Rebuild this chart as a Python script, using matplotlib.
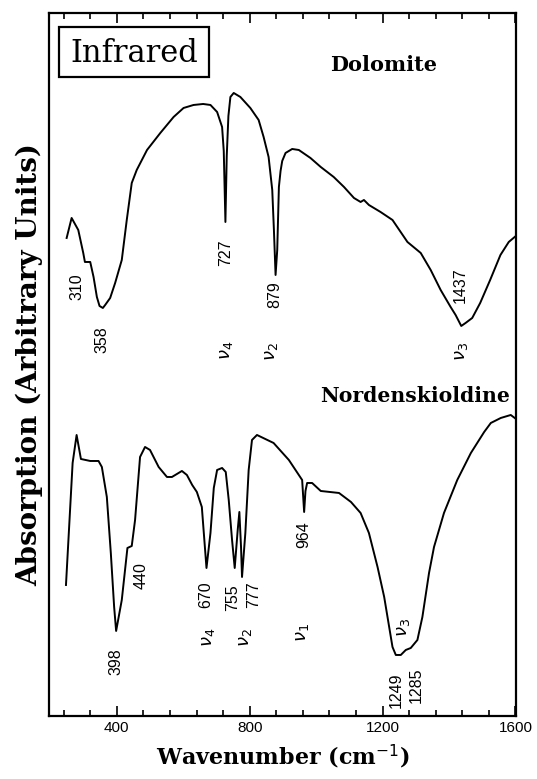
import matplotlib
matplotlib.use("Agg")
import matplotlib.pyplot as plt
from matplotlib.ticker import MultipleLocator
from matplotlib.patches import Rectangle

# Dolomite spectrum (wavenumber, absorption in arbitrary units)
dolomite_wn = [249, 264, 284, 299, 304, 320, 330, 340, 348, 358, 365, 380, 395, 415,
               430, 445, 460, 491, 531, 571, 601, 631, 660, 682, 702, 717, 722, 727,
               731, 736, 742, 752, 772, 802, 827, 842, 857, 868, 873, 878, 883, 888,
               893, 898, 908, 928, 948, 983, 1014, 1053, 1084, 1114, 1134, 1144, 1159,
               1194, 1230, 1275, 1315, 1345, 1375, 1405, 1420, 1437, 1450, 1470, 1494,
               1524, 1555, 1580, 1605]
dolomite_abs = [478, 498, 486, 463, 454, 454, 439, 419, 410, 408, 411, 418, 433, 456,
                496, 533, 546, 566, 583, 599, 608, 611, 612, 611, 604, 589, 565, 494,
                560, 600, 619, 623, 619, 608, 596, 579, 559, 526, 486, 441, 466, 529,
                545, 555, 563, 567, 566, 558, 549, 539, 529, 518, 514, 516, 511,
                504, 496, 474, 463, 446, 426, 409, 401, 390, 393, 398, 413,
                436, 461, 474, 481]

# Nordenskioldine spectrum
nord_wn = [247, 267, 279, 292, 320, 345, 355, 370, 382, 392, 398, 415, 432, 445, 455,
           470, 485, 500, 526, 551, 566, 596, 611, 627, 641, 656, 670, 682, 692, 702,
           717, 728, 737, 747, 755, 764, 769, 774, 777, 787, 797, 807, 822, 872, 918,
           958, 964, 968, 973, 988, 1014, 1069, 1105, 1134, 1159, 1185, 1205, 1220,
           1230, 1240, 1255, 1270, 1285, 1305, 1320, 1340, 1355, 1385, 1425, 1466,
           1506, 1526, 1556, 1586, 1606]
nord_abs = [131, 253, 281, 257, 255, 255, 249, 219, 163, 109, 85, 116, 168, 170, 196,
            259, 269, 266, 249, 239, 239, 245, 241, 231, 224, 209, 148, 183, 228, 246,
            248, 244, 216, 176, 148, 186, 204, 169, 139, 183, 246, 276, 281, 273, 256,
            236, 204, 225, 233, 233, 225, 223, 214, 203, 183, 149, 119, 89,
            69, 61, 61, 66, 68, 76, 99, 143, 169, 203, 236, 263,
            284, 293, 298, 301, 296]

# peak labels: text, wavenumber, height
dolomite_peaks = [("310", 279, 429), ("358", 356, 376), ("727", 727, 463),
                  ("879", 876, 421), ("1437", 1435, 431)]
dolomite_modes = [(r"$\nu_4$", 729, 366), (r"$\nu_2$", 864, 364), (r"$\nu_3$", 1437, 364)]
nord_peaks = [("398", 398, 54), ("440", 473, 140), ("670", 669, 121), ("755", 750, 118),
              ("777", 812, 121), ("964", 963, 181), ("1249", 1242, 26), ("1285", 1303, 31)]
nord_modes = [(r"$\nu_4$", 675, 79), (r"$\nu_2$", 787, 78), (r"$\nu_1$", 958, 83),
              (r"$\nu_3$", 1263, 88)]

serif = "DejaVu Serif"
sans = "Liberation Sans"

fig = plt.figure(figsize=(5.37, 7.79), dpi=100)
ax = fig.add_axes([0.0907, 0.0809, 0.8703, 0.9018])

ax.plot(dolomite_wn, dolomite_abs, color="black", lw=1.4)
ax.plot(nord_wn, nord_abs, color="black", lw=1.4)

for txt, x, y in dolomite_peaks + nord_peaks:
    ax.text(x, y, txt, rotation=90, ha="center", va="center", fontsize=11.5,
            family=sans)
for txt, x, y in dolomite_modes + nord_modes:
    ax.text(x, y, txt, rotation=90, ha="center", va="center", fontsize=13)

ax.text(1203, 651, "Dolomite", ha="center", va="center", fontsize=15,
        family=serif, weight="bold")
ax.text(1297, 320, "Nordenskioldine", ha="center", va="center", fontsize=14.7,
        family=serif, weight="bold")

ax.add_patch(Rectangle((227, 639), 452, 50, fill=False, lw=1.6, color="black"))
ax.text(453, 662, "Infrared", ha="center", va="center", fontsize=22, family=serif)

ax.set_xlim(195, 1602)
ax.set_ylim(0, 702.5)
ax.xaxis.set_major_locator(MultipleLocator(400))
ax.xaxis.set_minor_locator(MultipleLocator(80))
ax.tick_params(axis="x", which="both", direction="in", top=True, labelsize=11,
               width=1.2)
ax.tick_params(axis="x", which="major", length=7)
ax.tick_params(axis="x", which="minor", length=4)
ax.set_yticks([])
for lab in ax.get_xticklabels():
    lab.set_family(sans)
for s in ax.spines.values():
    s.set_linewidth(1.6)

ax.set_xlabel(r"Wavenumber (cm$^{-1}$)", fontsize=16, family=serif, weight="bold",
              labelpad=6)
ax.set_ylabel("Absorption (Arbitrary Units)", fontsize=20, family=serif, weight="bold",
              labelpad=4)

fig.savefig("out.png", dpi=100)
